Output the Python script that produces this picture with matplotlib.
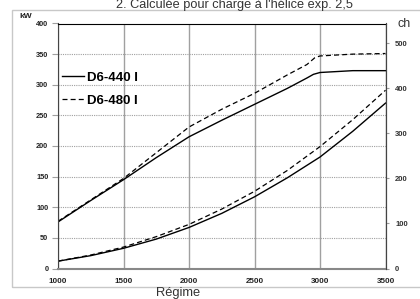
import matplotlib
matplotlib.use("Agg")
import matplotlib.pyplot as plt
from matplotlib.patches import Rectangle

# engine speed (rpm) and power (kW)
rpm_440 = [1000, 1250, 1500, 1750, 2000, 2250, 2500, 2750, 2900, 2950, 3000, 3250, 3500]
kw_440 = [76, 111, 145, 181, 215, 242, 268, 294, 311, 317, 320, 323, 323]
rpm_480 = [1000, 1250, 1500, 1750, 2000, 2250, 2500, 2750, 2900, 2960, 3000, 3250, 3500]
kw_480 = [77, 112, 147, 189, 231, 260, 286, 316, 333, 344, 347, 350, 351]

# propeller load curves
rpm_prop = [1000, 1250, 1500, 1750, 2000, 2250, 2500, 2750, 3000, 3250, 3500]
prop_440 = [12, 21, 33, 48, 67, 90, 117, 148, 182, 224, 270]
prop_480 = [12, 22, 35, 52, 72, 97, 126, 160, 199, 243, 291]

labels = ["D6-440 I", "D6-480 I"]
KW_TO_CH = 1.36

GRID = "#a0a0a0"; DARK = "#222222"; FRAME = "#c8c8c8"
FONT = "Liberation Sans"

fig = plt.figure(figsize=(4.2, 2.99), dpi=100)
fig.patches.append(Rectangle((12 / 420, 1 - 286.5 / 299), 1.2, (286.5 - 10) / 299,
                             transform=fig.transFigure, fill=False,
                             edgecolor=FRAME, lw=1.0))

ax = fig.add_axes([58 / 420, 1 - 268.5 / 299, 327.5 / 420, 245 / 299])
ax.plot(rpm_440, kw_440, color="black", lw=1.0, label=labels[0])
ax.plot(rpm_480, kw_480, color="black", lw=0.9, ls=(0, (4, 2.5)), label=labels[1])
ax.plot(rpm_prop, prop_440, color="black", lw=1.0)
ax.plot(rpm_prop, prop_480, color="black", lw=0.9, ls=(0, (4, 2.5)))

ax.set_xlim(1000, 3500)
ax.set_ylim(0, 400)
ax.set_xticks(range(1000, 3501, 500))
ax.set_yticks(range(0, 401, 50))
ax.grid(axis="x", color=GRID, lw=1.0, ls="-")
ax.grid(axis="y", color=GRID, lw=0.8, ls=(0, (1, 1)))
ax.set_axisbelow(True)
for lab in ax.get_xticklabels():
    lab.set(family=FONT, weight="bold", size=5.8, color=DARK)
for lab in ax.get_yticklabels():
    lab.set(family=FONT, weight="bold", size=5.3, color=DARK)
ax.tick_params(axis="x", length=0, pad=6.5)
ax.tick_params(axis="y", length=4, color=GRID, pad=3)
ax.spines["left"].set_color("#444444")
ax.spines["bottom"].set_color("#888888")
ax.spines["bottom"].set_linewidth(1.5)
ax.spines["top"].set_color("black")
ax.spines["right"].set_color("#444444")

ax2 = ax.twinx()
ax2.set_ylim(0, 400 * KW_TO_CH)
ax2.set_yticks(range(0, 501, 100))
for lab in ax2.get_yticklabels():
    lab.set(family=FONT, weight="bold", size=5.5, color="#333333")
ax2.tick_params(axis="y", length=2, color="#999999", pad=5)
for sp in ["left", "top", "bottom"]:
    ax2.spines[sp].set_visible(False)
ax2.spines["right"].set_color("#444444")

leg = ax.legend(loc="upper left", bbox_to_anchor=(0.012, 0.803), frameon=False,
                prop=dict(family=FONT, weight="bold", size=9.5),
                handlelength=1.7, handletextpad=0.2, labelspacing=0.8,
                borderpad=0, borderaxespad=0)

fig.text(26 / 420, 1 - 17 / 299, "kW", ha="center", va="center",
         family=FONT, weight="bold", size=6, color=DARK)
fig.text(404 / 420, 1 - 24 / 299, "ch", ha="center", va="center",
         family=FONT, size=9, color="#333333")
fig.text(234 / 420, 1 - 8 / 299, "2. Calculée pour charge à l'hélice exp. 2,5",
         ha="center", va="baseline", family=FONT, size=9.2, color="#333333")
fig.text(178 / 420, 1 - 296 / 299, "Régime", ha="center", va="baseline",
         family=FONT, size=9.3, color="#333333")

fig.savefig("out.png", dpi=100)
